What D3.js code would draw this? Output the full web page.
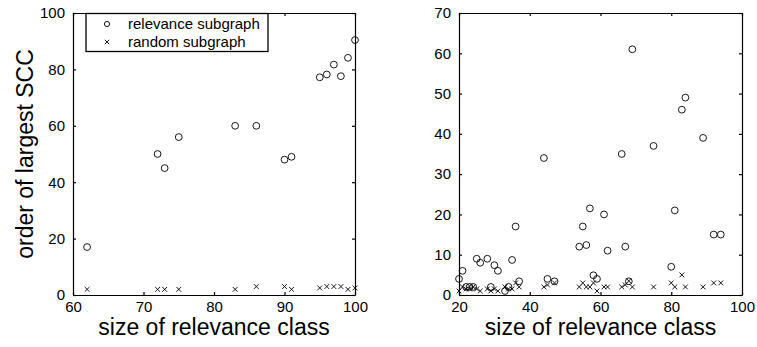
<!DOCTYPE html>
<html>
<head>
<meta charset="utf-8">
<script src="https://cdn.jsdelivr.net/npm/d3@7"></script>
<style>
  body { margin: 0; background: #fff; }
  svg { display: block; font-family: "Liberation Sans", Arial, Helvetica, sans-serif; }
  .axis path, .axis line { stroke: #000; stroke-width: 1.2; }
  .axis text { font-size: 15px; fill: #000; }
  .label { font-size: 23px; fill: #000; }
</style>
</head>
<body>
<svg id="chart" width="757" height="347"></svg>
<script>
// left panel: size of relevance class vs order of largest SCC
const leftSize      = [62, 72, 73, 75, 83, 86, 90, 91, 95, 96, 97, 98, 99, 100];
const leftRelevance = [17, 50, 45, 56, 60, 60, 48, 49, 77.2, 78.2, 81.7, 77.6, 84.1, 90.4];
const leftRandom    = [2, 2, 2, 2, 2, 3, 3, 2, 2.5, 3, 3, 3, 2, 2.5];

// right panel
const rightSize      = [20, 21, 22, 23, 24, 25, 26, 28, 29, 30, 31, 33, 34, 35, 36, 37, 44, 45, 47,
                        54, 55, 56, 57, 58, 59, 61, 62, 66, 67, 68, 69, 75, 80, 81, 83, 84, 89, 92, 94];
const rightRelevance = [4, 6, 2, 2, 2, 9, 8, 9, 2, 7.4, 6, 1, 2, 8.7, 17, 3.4, 34, 4, 3.4,
                        12, 17, 12.4, 21.5, 4.9, 4, 20, 11, 35, 12, 3.4, 61, 37, 7, 21, 46, 49, 39, 15, 15];
const rightRandom    = [1, 2, 1.5, 1.5, 2, 1.5, 1, 1.5, 1, 1.5, 1, 2, 1.5, 1.5, 3, 2, 2, 2.5, 3,
                        2, 3, 2, 2, 3, 1, 2, 2, 2, 2.5, 3.5, 2, 2, 3, 2, 5, 2, 2, 3, 3];

const leftXTicks  = [60, 70, 80, 90, 100];
const leftYTicks  = [0, 20, 40, 60, 80, 100];
const rightXTicks = [20, 40, 60, 80, 100];
const rightYTicks = [0, 10, 20, 30, 40, 50, 60, 70];

const xLabel = "size of relevance class";
const yLabel = "order of largest SCC";
const legendNames = ["relevance subgraph", "random subgraph"];

const svg = d3.select("#chart");
const plotTop = 13, plotBottom = 295, tick = 3;

function cross(g, x, y, s) {
  g.append("path")
    .attr("d", "M" + (x - s) + "," + (y - s) + "L" + (x + s) + "," + (y + s) +
               "M" + (x - s) + "," + (y + s) + "L" + (x + s) + "," + (y - s))
    .attr("stroke", "#000")
    .attr("stroke-width", 0.9)
    .attr("fill", "none");
}

function panel(left, right, xDomain, yDomain, xTicks, yTicks, sizes, rel, rnd) {
  const x = d3.scaleLinear().domain(xDomain).range([left, right]);
  const y = d3.scaleLinear().domain(yDomain).range([plotBottom, plotTop]);
  const g = svg.append("g");

  g.append("g").attr("class", "axis")
    .attr("transform", "translate(0," + plotBottom + ")")
    .call(d3.axisBottom(x).tickValues(xTicks).tickSizeInner(-tick).tickSizeOuter(0).tickPadding(6))
    .selectAll("text").attr("dy", "0.71em");
  g.append("g").attr("class", "axis")
    .attr("transform", "translate(0," + plotTop + ")")
    .call(d3.axisTop(x).tickValues(xTicks).tickSizeInner(-tick).tickSizeOuter(0).tickFormat(""));
  g.append("g").attr("class", "axis")
    .attr("transform", "translate(" + left + ",0)")
    .call(d3.axisLeft(y).tickValues(yTicks).tickSizeInner(-tick).tickSizeOuter(0).tickPadding(8));
  g.append("g").attr("class", "axis")
    .attr("transform", "translate(" + right + ",0)")
    .call(d3.axisRight(y).tickValues(yTicks).tickSizeInner(-tick).tickSizeOuter(0).tickFormat(""));

  g.selectAll(".rel")
    .data(sizes)
    .enter().append("circle")
    .attr("class", "rel")
    .attr("cx", function(d) { return x(d); })
    .attr("cy", function(d, i) { return y(rel[i]); })
    .attr("r", 3.4)
    .attr("fill", "none")
    .attr("stroke", "#000")
    .attr("stroke-width", 0.9);

  sizes.forEach(function(d, i) { cross(g, x(d), y(rnd[i]), 2.4); });

  g.append("text")
    .attr("class", "label")
    .attr("x", (left + right) / 2)
    .attr("y", 335)
    .style("text-anchor", "middle")
    .text(xLabel);
  return g;
}

panel(73, 355, [60, 100], [0, 100], leftXTicks, leftYTicks, leftSize, leftRelevance, leftRandom);
panel(459, 742, [20, 100], [0, 70], rightXTicks, rightYTicks, rightSize, rightRelevance, rightRandom);

svg.append("text")
  .attr("class", "label")
  .attr("transform", "translate(33," + (plotTop + plotBottom) / 2 + ") rotate(-90)")
  .style("text-anchor", "middle")
  .text(yLabel);

// legend
const legend = svg.append("g");
legend.append("rect")
  .attr("x", 86).attr("y", 13.5)
  .attr("width", 182).attr("height", 38)
  .attr("fill", "#fff")
  .attr("stroke", "#000")
  .attr("stroke-width", 1.3);
legend.append("circle")
  .attr("cx", 107).attr("cy", 24).attr("r", 2.6)
  .attr("fill", "none").attr("stroke", "#000").attr("stroke-width", 0.9);
cross(legend, 107, 42, 2.2);
legend.selectAll(".lt")
  .data(legendNames)
  .enter().append("text")
  .attr("x", 128)
  .attr("y", function(d, i) { return 29 + i * 18; })
  .style("font-size", "15px")
  .text(function(d) { return d; });
</script>
</body>
</html>
